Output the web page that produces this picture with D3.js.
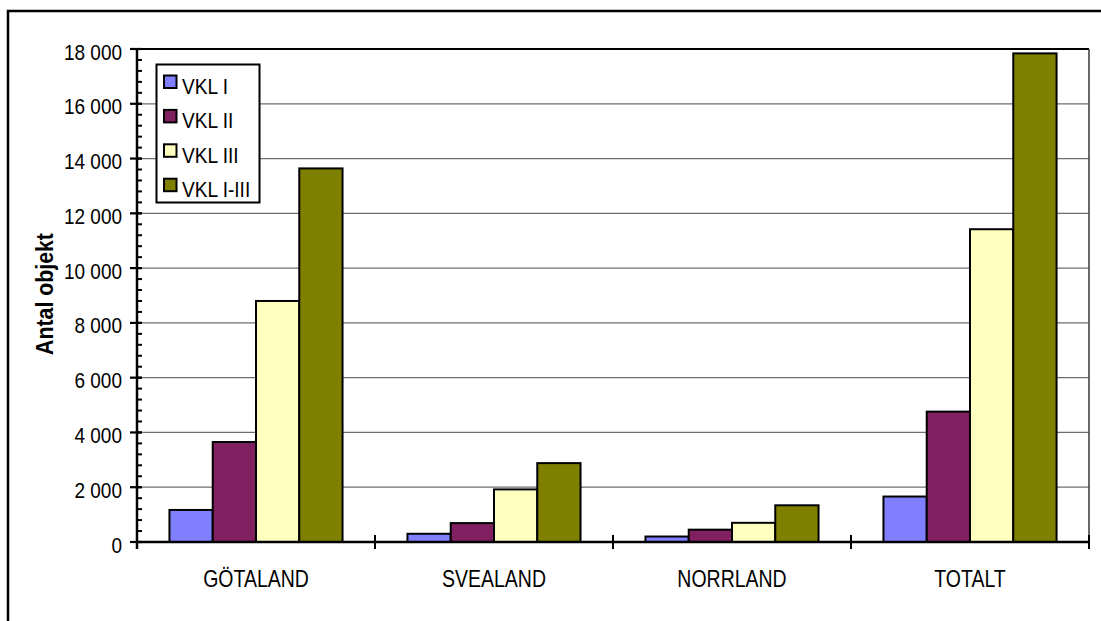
<!DOCTYPE html>
<html>
<head>
<meta charset="utf-8">
<script src="https://cdn.jsdelivr.net/npm/d3@7"></script>
<style>
  html, body { margin: 0; padding: 0; background: #fff; }
  svg { display: block; font-family: Arial, "Liberation Sans", sans-serif; }
</style>
</head>
<body>
<svg id="chart" width="1101" height="621"></svg>
<script>
// Regions and series values (antal objekt)
const categories = ["GÖTALAND", "SVEALAND", "NORRLAND", "TOTALT"];
const seriesNames = ["VKL I", "VKL II", "VKL III", "VKL I-III"];
const vkl1 = [1170, 300, 200, 1660];
const vkl2 = [3650, 690, 450, 4760];
const vkl3 = [8800, 1920, 700, 11420];
const vkl13 = [13640, 2880, 1340, 17840];
const yTicks = [0, 2000, 4000, 6000, 8000, 10000, 12000, 14000, 16000, 18000];
const yTitle = "Antal objekt";

const seriesValues = [vkl1, vkl2, vkl3, vkl13];
const colors = ["#8080FF", "#802060", "#FFFFC0", "#808000"];

const svg = d3.select("#chart");
const plot = { left: 137, right: 1089, top: 49, bottom: 542 };
const textStretch = 1.2; // glyphs are drawn taller than their natural proportions

const fmt = d3.formatLocale({ decimal: ",", thousands: " ", grouping: [3], currency: ["", ""] }).format(",d");

const x0 = d3.scaleBand().domain(categories).range([plot.left, plot.right]).paddingInner(0).paddingOuter(0);
const x1 = d3.scaleBand().domain(seriesNames).range([0, x0.bandwidth()]).paddingInner(0).paddingOuter(0.75);
const y = d3.scaleLinear().domain([0, 18000]).range([plot.bottom, plot.top]);

// Outer chart frame (runs past the right and bottom edges)
svg.append("rect")
  .attr("x", 8).attr("y", 11).attr("width", 1200).attr("height", 700)
  .attr("fill", "none").attr("stroke", "#000").attr("stroke-width", 2.5);

// Horizontal gridlines
svg.append("g")
  .selectAll("line")
  .data(yTicks.filter(d => d > 0 && d < 18000))
  .join("line")
  .attr("x1", plot.left).attr("x2", plot.right)
  .attr("y1", d => y(d)).attr("y2", d => y(d))
  .attr("stroke", "#6e6e6e").attr("stroke-width", 1.3);

// Plot area frame: top and right edges
svg.append("line")
  .attr("x1", plot.left).attr("x2", plot.right)
  .attr("y1", plot.top).attr("y2", plot.top)
  .attr("stroke", "#000").attr("stroke-width", 2.2);
svg.append("line")
  .attr("x1", plot.right).attr("x2", plot.right)
  .attr("y1", plot.top).attr("y2", plot.bottom)
  .attr("stroke", "#444").attr("stroke-width", 1.6);

// Bars
const groups = svg.append("g")
  .selectAll("g")
  .data(categories)
  .join("g")
  .attr("transform", d => `translate(${x0(d)},0)`);

groups.selectAll("rect")
  .data((c, i) => seriesNames.map((s, k) => ({ s, k, v: seriesValues[k][i] })))
  .join("rect")
  .attr("x", d => x1(d.s))
  .attr("width", x1.bandwidth())
  .attr("y", d => y(d.v))
  .attr("height", d => y(0) - y(d.v))
  .attr("fill", d => colors[d.k])
  .attr("stroke", "#000")
  .attr("stroke-width", 2);

// Y axis with minor ticks
const yAxis = svg.append("g");
yAxis.append("line")
  .attr("x1", plot.left).attr("x2", plot.left)
  .attr("y1", plot.top - 1).attr("y2", plot.bottom + 7)
  .attr("stroke", "#000").attr("stroke-width", 2.5);
yAxis.selectAll("line.minor")
  .data(d3.range(0, 18001, 400))
  .join("line")
  .attr("class", "minor")
  .attr("x1", plot.left).attr("x2", plot.left + 5)
  .attr("y1", d => y(d)).attr("y2", d => y(d))
  .attr("stroke", "#000").attr("stroke-width", 2);
yAxis.selectAll("line.major")
  .data(yTicks)
  .join("line")
  .attr("class", "major")
  .attr("x1", plot.left - 7).attr("x2", plot.left + 5)
  .attr("y1", d => y(d)).attr("y2", d => y(d))
  .attr("stroke", "#000").attr("stroke-width", 2.2);
yAxis.selectAll("text")
  .data(yTicks)
  .join("text")
  .attr("transform", d => `translate(122,${y(d) + 10.5}) scale(1,${textStretch})`)
  .attr("text-anchor", "end")
  .attr("font-size", "19px")
  .attr("fill", "#000")
  .text(d => fmt(d));

// X axis
const xAxis = svg.append("g");
xAxis.append("line")
  .attr("x1", plot.left).attr("x2", plot.right)
  .attr("y1", plot.bottom).attr("y2", plot.bottom)
  .attr("stroke", "#000").attr("stroke-width", 2.5);
xAxis.selectAll("line.tick")
  .data(categories.slice(1).map(c => x0(c)).concat([plot.right]))
  .join("line")
  .attr("class", "tick")
  .attr("x1", d => d).attr("x2", d => d)
  .attr("y1", plot.bottom - 7).attr("y2", plot.bottom + 7)
  .attr("stroke", "#000").attr("stroke-width", 2);
xAxis.selectAll("text")
  .data(categories)
  .join("text")
  .attr("transform", d => `translate(${x0(d) + x0.bandwidth() / 2},586.5) scale(1,${textStretch})`)
  .attr("text-anchor", "middle")
  .attr("font-size", "19.5px")
  .attr("fill", "#000")
  .text(d => d);

// Y axis title
svg.append("text")
  .attr("transform", "translate(52.5,294) rotate(-90) scale(1,1.15)")
  .attr("text-anchor", "middle")
  .attr("font-size", "21.3px")
  .attr("font-weight", "bold")
  .attr("fill", "#000")
  .text(yTitle);

// Legend
const legend = svg.append("g");
legend.append("rect")
  .attr("x", 156.5).attr("y", 64.5).attr("width", 103).attr("height", 138)
  .attr("fill", "#fff").attr("stroke", "#000").attr("stroke-width", 2);
const items = legend.selectAll("g.item")
  .data(seriesNames)
  .join("g")
  .attr("class", "item")
  .attr("transform", (d, i) => `translate(0,${82 + i * 34.4})`);
items.append("rect")
  .attr("x", 164).attr("y", -6.5).attr("width", 12.5).attr("height", 12.5)
  .attr("fill", (d, i) => colors[i])
  .attr("stroke", "#000").attr("stroke-width", 2);
items.append("text")
  .attr("transform", `translate(182,12) scale(1,${textStretch})`)
  .attr("font-size", "19.1px")
  .attr("fill", "#000")
  .text(d => d);
</script>
</body>
</html>
